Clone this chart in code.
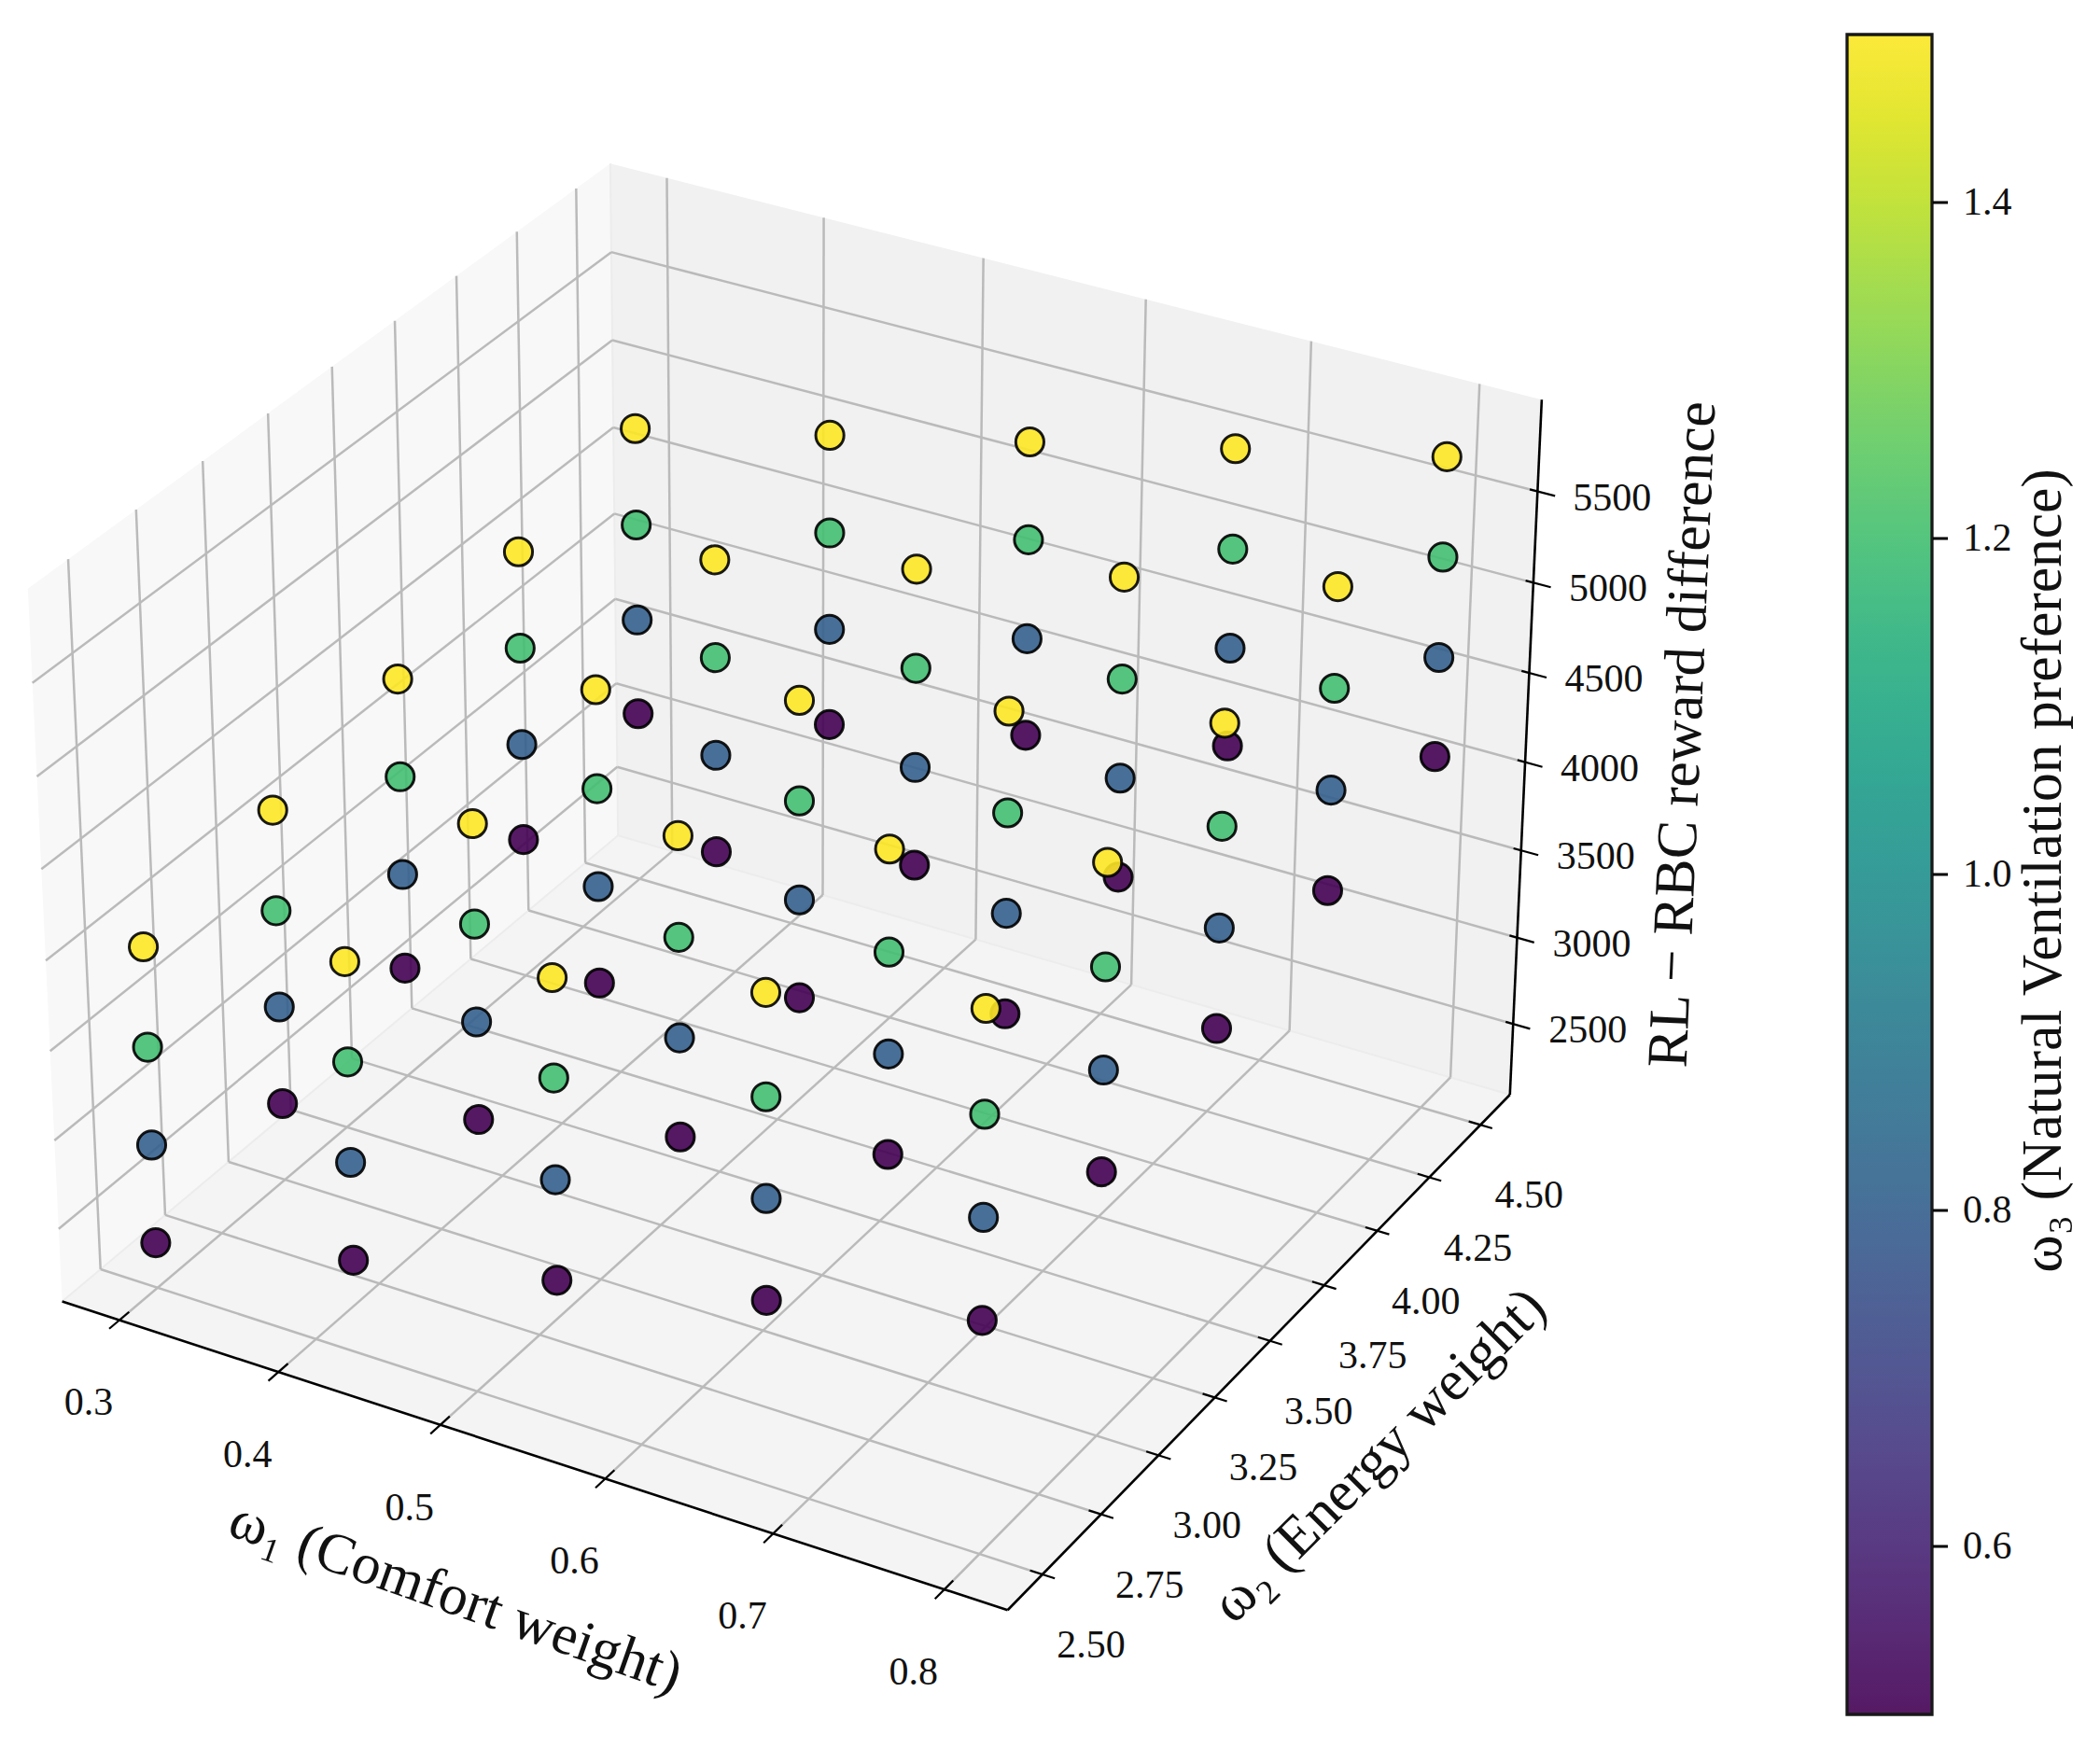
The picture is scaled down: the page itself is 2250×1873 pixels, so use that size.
import numpy as np, pandas as pd, altair as alt

W1 = [0.3, 0.425, 0.55, 0.675, 0.8]
W2 = [2.5, 3.0, 3.5, 4.0, 4.5]
W3 = [0.5, 0.8, 1.2, 1.5]
# rows: omega2, columns: omega1
REWARD_W3_05 = [[2344,2607,2859,3114,3372],[2527,2786,3039,3295,3554],[2715,2968,3224,3475,3736],[2889,3146,3398,3660,3916],[3072,3326,3582,3840,4100]]
REWARD_W3_08 = [[2899,3156,3415,3670,3927],[3080,3338,3592,3848,4107],[3256,3518,3775,4033,4287],[3443,3701,3953,4215,4471],[3623,3878,4135,4393,4653]]
REWARD_W3_12 = [[3448,3712,3971,4218,4475],[3625,3884,4146,4402,4660],[3814,4069,4325,4584,4837],[3998,4256,4509,4763,5027],[4175,4431,4695,4946,5206]]
REWARD_W3_15 = [[4004,4260,4512,4773,5030],[4187,4438,4699,4955,5213],[4365,4620,4877,5135,5388],[4546,4805,5058,5320,5575],[4728,4984,5242,5500,5752]]
REWARD = [REWARD_W3_05, REWARD_W3_08, REWARD_W3_12, REWARD_W3_15]
XT = [0.3,0.4,0.5,0.6,0.7,0.8]
YT = [2.5,2.75,3.0,3.25,3.5,3.75,4.0,4.25,4.5]
ZT = [2500,3000,3500,4000,4500,5000,5500]
CT = [0.6,0.8,1.0,1.2,1.4]
XL=(.2635,.8365); YL=(2.354,4.646); ZL=(2086.,5997.)
S=9748.; X0=856.5; Y0=913.
BOX=np.array([4,4,3])/np.sqrt(41)*1.8294640721620434*25/24
Rc=BOX/2
U=np.array([.8660254,.5,0.]); V=np.array([-.25,.4330127,.8660254]); Wv=np.array([.4330127,-.75,.5])
def proj(fx,fy,fz):
    q=(np.array([fx,fy,fz])*BOX)-Rc
    d=10-Wv@q
    return X0+S*(U@q)/d, Y0-S*(V@q)/d, d
def fr(v,L): return (v-L[0])/(L[1]-L[0])
rows=[]
for k,w3 in enumerate(W3):
    for j,w2 in enumerate(W2):
        for i,w1 in enumerate(W1):
            z=REWARD[k][j][i]
            x,y,d=proj(fr(w1,XL),fr(w2,YL),fr(z,ZL))
            rows.append(dict(x=x,y=y,d=d,w3=w3,z=z))
pts=pd.DataFrame(rows).sort_values('d',ascending=False).reset_index(drop=True)
pts['o']=pts.index
X=alt.X('x:Q',scale=alt.Scale(domain=[8,2242]),axis=None)
Y=alt.Y('y:Q',scale=alt.Scale(domain=[1865,8]),axis=None)
def seg(a,b):
    pa=proj(*a);pb=proj(*b)
    return dict(x=pa[0],y=pa[1],x2=pb[0],y2=pb[1])
def rules(segs,color,w):
    return alt.Chart(pd.DataFrame(segs)).mark_rule(color=color,strokeWidth=w).encode(x=X,y=Y,x2='x2:Q',y2='y2:Q')
def pane(corners,color):
    p=[proj(*c) for c in corners+corners[:1]]
    df=pd.DataFrame(dict(x=[q[0] for q in p],y=[q[1] for q in p],i=range(len(p))))
    return alt.Chart(df).mark_line(fill=color,strokeWidth=0,opacity=1).encode(x=X,y=Y,order='i:Q')
panes=[pane([(0,0,0),(0,1,0),(0,1,1),(0,0,1)],'#f8f8f8'),
       pane([(0,1,0),(1,1,0),(1,1,1),(0,1,1)],'#f1f1f1'),
       pane([(0,0,0),(1,0,0),(1,1,0),(0,1,0)],'#f4f4f4')]
edges=rules([seg((0,1,0),(0,1,1)),seg((0,1,0),(1,1,0)),seg((0,1,0),(0,0,0))],'#ececec',2)
grid=[]
for t in XT:
    f=fr(t,XL);grid+= [seg((f,0,0),(f,1,0)),seg((f,1,0),(f,1,1))]
for t in YT:
    f=fr(t,YL);grid+= [seg((1,f,0),(0,f,0)),seg((0,f,0),(0,f,1))]
for t in ZT:
    f=fr(t,ZL);grid+= [seg((0,0,f),(0,1,f)),seg((0,1,f),(1,1,f))]
grid=rules(grid,'#bababa',2.5)
axl=rules([seg((0,0,0),(1,0,0)),seg((1,0,0),(1,1,0)),seg((1,1,0),(1,1,1))],'#000000',2.6)
ticks=[]
for t in XT:
    f=fr(t,XL);ticks.append(seg((f,-.017,0),(f,.016,0)))
for t in YT:
    f=fr(t,YL);ticks.append(seg((.9875,f,0),(1.0125,f,0)))
for t in ZT:
    f=fr(t,ZL);ticks.append(seg((.992,1,f),(1.018,1,f)))
ticks=rules(ticks,'#000000',2.2)
labs=[]
for t in XT:
    p=proj(fr(t,XL),0,0);labs.append(dict(x=p[0]-33,y=p[1]+89,t=f'{t:.1f}'))
for t in YT:
    p=proj(1,fr(t,YL),0);labs.append(dict(x=p[0]+52,y=p[1]+76,t=f'{t:.2f}'))
for t in ZT:
    p=proj(1,1,fr(t,ZL));labs.append(dict(x=p[0]+80,y=p[1]+7,t=str(t)))
FONT='Liberation Serif'
ticklabs=alt.Chart(pd.DataFrame(labs)).mark_text(font=FONT,fontSize=42,align='center',baseline='middle',color='#111111').encode(x=X,y=Y,text='t:N')
titles=pd.DataFrame([
 dict(x=488,y=1712,t='ω₁ (Comfort weight)',a=19.5),
 dict(x=1478,y=1560,t='ω₂ (Energy weight)',a=315),
 dict(x=1804,y=787,t='RL − RBC reward difference',a=272.5),
 dict(x=2190,y=933,t='ω₃ (Natural Ventilation preference)',a=270)])
tit=alt.Chart(titles).mark_text(font=FONT,fontSize=61.5,align='center',baseline='middle',color='#111111').encode(x=X,y=Y,text='t:N',angle=alt.Angle('a:Q',scale=None))
ct=pd.DataFrame([dict(x=2071,x2=2087,y=37+(1.5-v)*1800,y2=37+(1.5-v)*1800) for v in CT])
cticks=alt.Chart(ct).mark_rule(color='#000000',strokeWidth=3).encode(x=X,y=Y,x2='x2:Q',y2='y2:Q')
points=alt.Chart(pts).mark_circle(size=908,fillOpacity=.9,stroke='#000000',strokeOpacity=.9,strokeWidth=3,opacity=1).encode(
    x=X,y=Y,order='o:Q',
    color=alt.Color('w3:Q',scale=alt.Scale(scheme='viridis',domain=[.5,1.5]),
      legend=alt.Legend(title=None,orient='none',legendX=1971,legendY=29,direction='vertical',gradientLength=1800,gradientThickness=91,
        gradientStrokeColor='#000000',gradientStrokeWidth=3.3,gradientOpacity=.9,values=CT,format='.1f',labelFont=FONT,labelFontSize=42,labelColor='#111111',labelOffset=33,labelOverlap=False,padding=0)))
chart=alt.layer(*panes,edges,grid,axl,ticks,ticklabs,tit,cticks,points).properties(width=2234,height=1857,padding=0,autosize=alt.AutoSizeParams(type='none')).configure_view(stroke=None)
chart.save("out.html", embed_options={"renderer": "svg", "actions": False})
